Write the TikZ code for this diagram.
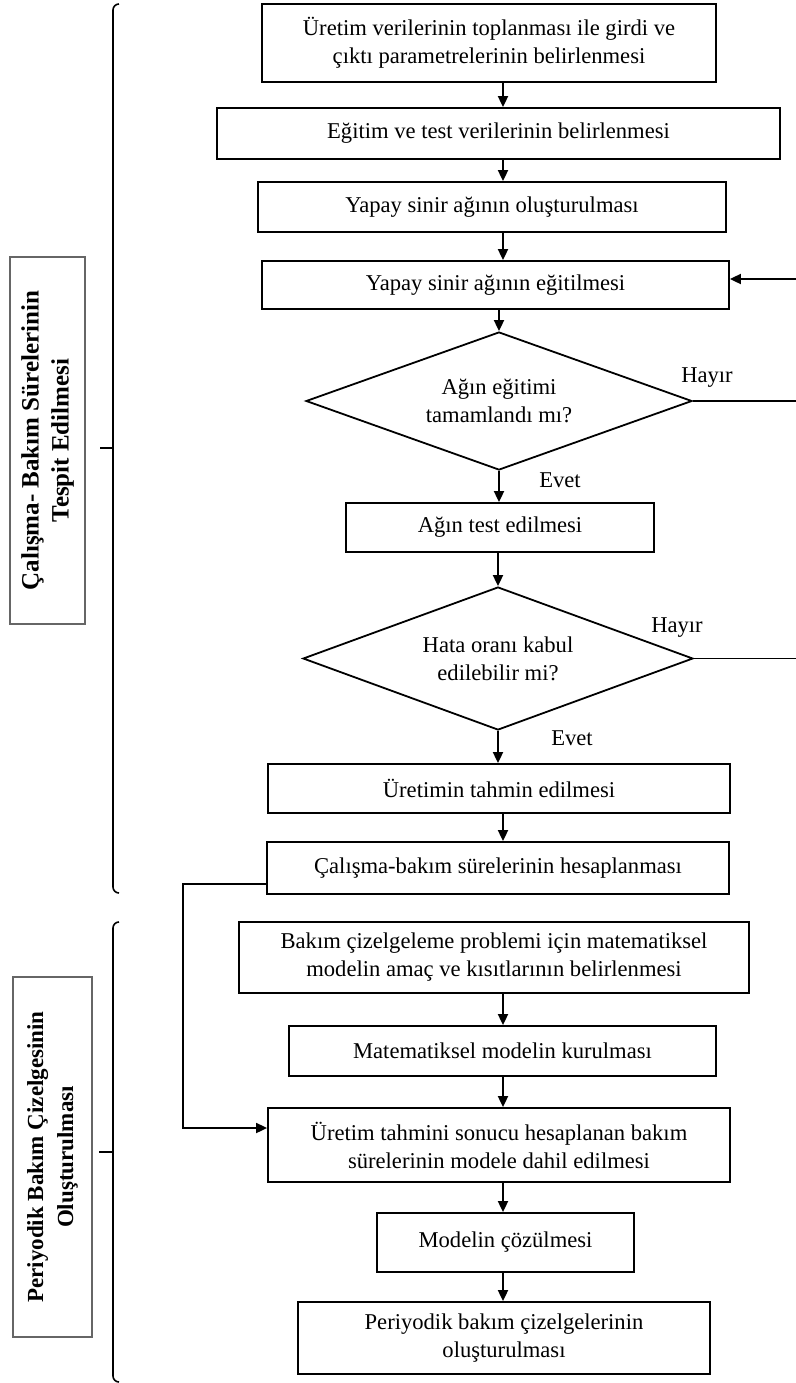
\documentclass[tikz,border=0pt]{standalone}
\usepackage{fontspec}
\setmainfont{Liberation Serif}
\usetikzlibrary{shapes.geometric,arrows.meta}

\begin{document}
\begin{tikzpicture}[x=0.5pt, y=-0.5pt,
	box/.style={draw, line width=0.9pt, align=center, inner sep=0pt, font=\fontsize{11.3}{14}\selectfont},
	decision/.style={draw, diamond, aspect=2.8, line width=0.9pt, align=center, inner sep=0pt, font=\fontsize{11.3}{14}\selectfont},
	sidebox/.style={draw=black!60, line width=0.6pt, align=center, inner sep=0pt, rotate=90, font=\bfseries\fontsize{11.5}{15}\selectfont},
	lbl/.style={font=\fontsize{11.3}{14}\selectfont},
	arr/.style={line width=0.9pt, -{Triangle[length=5.5pt,width=5pt]}},
	plain/.style={line width=0.9pt},
	brk/.style={line width=0.8pt}]
	\useasboundingbox (0,0) rectangle (796,1383);

	% first part
	\node[box, minimum width=227pt, minimum height=39pt] (b1) at (489,43) {Üretim verilerinin toplanması ile girdi ve\\çıktı parametrelerinin belirlenmesi};
	\node[box, minimum width=281.5pt, minimum height=25.5pt] (b2) at (498.5,133.5) {Eğitim ve test verilerinin belirlenmesi};
	\node[box, minimum width=234pt, minimum height=25pt] (b3) at (492,207) {Yapay sinir ağının oluşturulması};
	\node[box, minimum width=233.5pt, minimum height=24pt] (b4) at (495.5,285) {Yapay sinir ağının eğitilmesi};
	\node[decision, minimum width=193pt, minimum height=69pt] (d1) at (499,401) {Ağın eğitimi\\tamamlandı mı?};
	\node[box, minimum width=154pt, minimum height=24.5pt] (b5) at (500,527.5) {Ağın test edilmesi};
	\node[decision, minimum width=195pt, minimum height=71.5pt] (d2) at (498,658.5) {Hata oranı kabul\\edilebilir mi?};
	\node[box, minimum width=231pt, minimum height=24.5pt] (b6) at (499,788.5) {Üretimin tahmin edilmesi};
	\node[box, minimum width=231pt, minimum height=26pt] (b7) at (498,868) {Çalışma-bakım sürelerinin hesaplanması};

	% second part
	\node[box, minimum width=255pt, minimum height=35.5pt] (b8) at (494,957.5) {Bakım çizelgeleme problemi için matematiksel\\modelin amaç ve kısıtlarının belirlenmesi};
	\node[box, minimum width=213.5pt, minimum height=25pt] (b9) at (502.5,1051) {Matematiksel modelin kurulması};
	\node[box, minimum width=231pt, minimum height=37pt] (b10) at (499,1145) {Üretim tahmini sonucu hesaplanan bakım\\sürelerinin modele dahil edilmesi};
	\node[box, minimum width=128.5pt, minimum height=29.5pt] (b11) at (505.5,1242.5) {Modelin çözülmesi};
	\node[box, minimum width=206pt, minimum height=36pt] (b12) at (504,1338) {Periyodik bakım çizelgelerinin\\oluşturulması};

	\node[lbl] (h1) at (707,378) {Hayır};
	\node[lbl] (h2) at (677,628) {Hayır};
	\node[lbl] (e1) at (560,480) {Evet};
	\node[lbl] (e2) at (572,738) {Evet};

	\coordinate (ax) at (503,0);
	\coordinate (redge) at (796,0);
	\coordinate (fb) at (796,279);
	\coordinate (lt) at (183,884);
	\coordinate (lb) at (183,1128);

	\draw[arr] (b1.south -| ax) -- (b2.north -| ax);
	\draw[arr] (b2.south -| ax) -- (b3.north -| ax);
	\draw[arr] (b3.south -| ax) -- (b4.north -| ax);
	\draw[arr] (b4.south -| d1.north) -- (d1.north);
	\draw[arr] (d1.south) -- (b5.north -| d1.south);
	\draw[arr] (b5.south -| d2.north) -- (d2.north);
	\draw[arr] (d2.south) -- (b6.north -| d2.south);
	\draw[arr] (b6.south -| ax) -- (b7.north -| ax);
	\draw[arr] (b8.south -| ax) -- (b9.north -| ax);
	\draw[arr] (b9.south -| ax) -- (b10.north -| ax);
	\draw[arr] (b10.south -| ax) -- (b11.north -| ax);
	\draw[arr] (b11.south -| ax) -- (b12.north -| ax);

	% loops
	\draw[plain] (d1.east) -- (d1.east -| redge);
	\draw[plain] (d2.east) -- (d2.east -| redge);
	\draw[arr] (fb) -- (b4.east |- fb);
	\draw[arr] (b7.west |- lt) -- (lt) -- (lb) -- (b10.west |- lb);

	% side labels
	\node[sidebox, minimum width=183.5pt, minimum height=37.5pt, font=\bfseries\fontsize{12.5}{15}\selectfont] (s1) at (47.5,440.5) {Çalışma- Bakım Sürelerinin\\Tespit Edilmesi};
	\node[sidebox, minimum width=180pt, minimum height=39.5pt] (s2) at (52.5,1157) {Periyodik Bakım Çizelgesinin\\Oluşturulması};

	\draw[brk] (119,4) to[out=180, in=90] (113,10) -- (113,887) to[out=-90, in=180] (119,893);
	\draw[brk] (100,448) -- (113,448);
	\draw[brk] (119,922) to[out=180, in=90] (113,928) -- (113,1376) to[out=-90, in=180] (119,1382);
	\draw[brk] (99,1152) -- (113,1152);
\end{tikzpicture}
\end{document}
